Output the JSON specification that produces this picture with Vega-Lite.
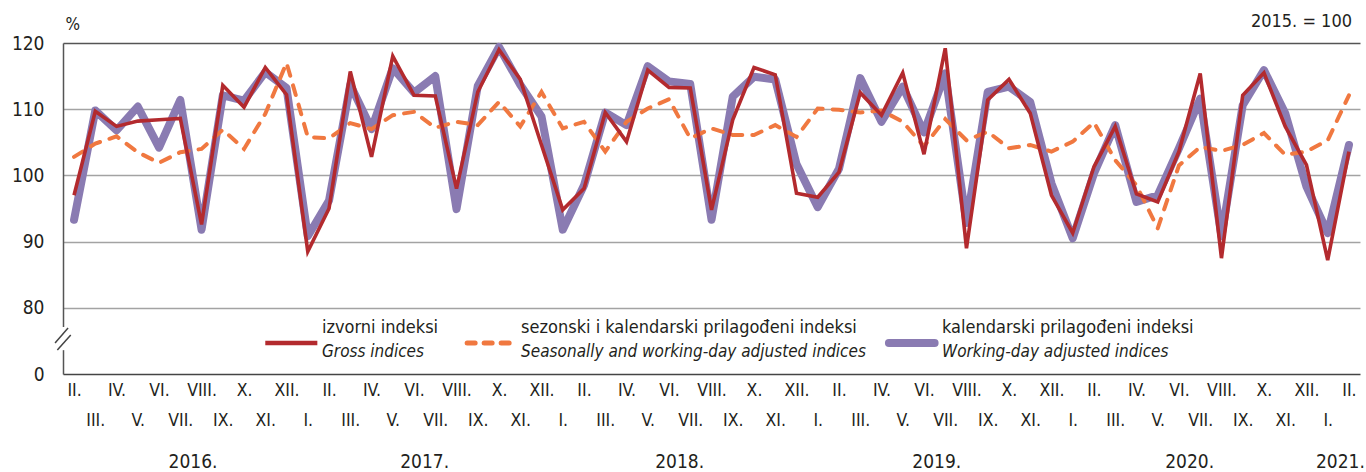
{
  "$schema": "https://vega.github.io/schema/vega-lite/v6.json",
  "width": 1297,
  "height": 331,
  "autosize": "none",
  "padding": {"left": 63, "top": 43, "right": 6, "bottom": 98},
  "background": "white",
  "config": {"view": {"stroke": null}, "font": "DejaVu Sans Condensed"},
  "resolve": {"axis": {"x": "independent"}},
  "datasets": {
    "series": [
      {"t": 0, "gross": 97.0, "sa": 102.8, "wd": 93.3},
      {"t": 1, "gross": 109.7, "sa": 104.8, "wd": 109.8},
      {"t": 2, "gross": 107.4, "sa": 105.9, "wd": 106.8},
      {"t": 3, "gross": 108.2, "sa": 103.5, "wd": 110.4},
      {"t": 4, "gross": 108.4, "sa": 101.9, "wd": 104.2},
      {"t": 5, "gross": 108.6, "sa": 103.5, "wd": 111.4},
      {"t": 6, "gross": 92.6, "sa": 104.0, "wd": 91.8},
      {"t": 7, "gross": 113.6, "sa": 106.9, "wd": 112.1},
      {"t": 8, "gross": 110.3, "sa": 104.0, "wd": 111.3},
      {"t": 9, "gross": 116.3, "sa": 109.3, "wd": 115.6},
      {"t": 10, "gross": 112.2, "sa": 117.0, "wd": 113.2},
      {"t": 11, "gross": 88.5, "sa": 105.8, "wd": 90.8},
      {"t": 12, "gross": 95.0, "sa": 105.6, "wd": 96.2},
      {"t": 13, "gross": 115.7, "sa": 107.9, "wd": 113.7},
      {"t": 14, "gross": 102.8, "sa": 107.0, "wd": 107.0},
      {"t": 15, "gross": 118.0, "sa": 109.1, "wd": 116.2},
      {"t": 16, "gross": 112.1, "sa": 109.6, "wd": 112.5},
      {"t": 17, "gross": 112.0, "sa": 107.2, "wd": 115.0},
      {"t": 18, "gross": 98.0, "sa": 108.1, "wd": 94.9},
      {"t": 19, "gross": 112.6, "sa": 107.6, "wd": 113.5},
      {"t": 20, "gross": 119.0, "sa": 111.1, "wd": 119.4},
      {"t": 21, "gross": 114.5, "sa": 107.4, "wd": 113.7},
      {"t": 22, "gross": 104.6, "sa": 112.6, "wd": 108.9},
      {"t": 23, "gross": 94.8, "sa": 107.1, "wd": 91.8},
      {"t": 24, "gross": 98.0, "sa": 108.1, "wd": 98.5},
      {"t": 25, "gross": 109.5, "sa": 103.6, "wd": 109.5},
      {"t": 26, "gross": 105.1, "sa": 108.1, "wd": 107.6},
      {"t": 27, "gross": 115.9, "sa": 110.1, "wd": 116.5},
      {"t": 28, "gross": 113.3, "sa": 111.5, "wd": 114.2},
      {"t": 29, "gross": 113.2, "sa": 105.6, "wd": 113.8},
      {"t": 30, "gross": 94.8, "sa": 107.1, "wd": 93.3},
      {"t": 31, "gross": 108.4, "sa": 106.1, "wd": 111.9},
      {"t": 32, "gross": 116.3, "sa": 106.1, "wd": 114.9},
      {"t": 33, "gross": 115.2, "sa": 107.6, "wd": 114.5},
      {"t": 34, "gross": 97.3, "sa": 105.8, "wd": 101.7},
      {"t": 35, "gross": 96.7, "sa": 110.1, "wd": 95.2},
      {"t": 36, "gross": 100.5, "sa": 109.9, "wd": 101.0},
      {"t": 37, "gross": 112.5, "sa": 109.5, "wd": 114.7},
      {"t": 38, "gross": 109.1, "sa": 109.8, "wd": 108.1},
      {"t": 39, "gross": 115.5, "sa": 108.1, "wd": 113.4},
      {"t": 40, "gross": 103.2, "sa": 104.4, "wd": 106.5},
      {"t": 41, "gross": 119.2, "sa": 108.5, "wd": 115.4},
      {"t": 42, "gross": 89.0, "sa": 105.3, "wd": 92.8},
      {"t": 43, "gross": 111.4, "sa": 106.6, "wd": 112.6},
      {"t": 44, "gross": 114.5, "sa": 104.1, "wd": 113.4},
      {"t": 45, "gross": 109.4, "sa": 104.6, "wd": 111.1},
      {"t": 46, "gross": 97.0, "sa": 103.6, "wd": 98.8},
      {"t": 47, "gross": 91.3, "sa": 105.1, "wd": 90.5},
      {"t": 48, "gross": 101.3, "sa": 108.0, "wd": 100.3},
      {"t": 49, "gross": 107.4, "sa": 102.3, "wd": 107.6},
      {"t": 50, "gross": 97.2, "sa": 98.5, "wd": 96.0},
      {"t": 51, "gross": 96.0, "sa": 92.0, "wd": 97.0},
      {"t": 52, "gross": 103.6, "sa": 101.5, "wd": 104.1},
      {"t": 53, "gross": 115.4, "sa": 104.3, "wd": 111.6},
      {"t": 54, "gross": 87.5, "sa": 103.7, "wd": 90.8},
      {"t": 55, "gross": 112.1, "sa": 104.6, "wd": 110.6},
      {"t": 56, "gross": 115.5, "sa": 106.4, "wd": 115.9},
      {"t": 57, "gross": 107.4, "sa": 103.1, "wd": 109.4},
      {"t": 58, "gross": 101.6, "sa": 103.6, "wd": 98.3},
      {"t": 59, "gross": 87.2, "sa": 105.3, "wd": 91.3},
      {"t": 60, "gross": 103.6, "sa": 112.1, "wd": 104.6}
    ],
    "years": [
      {"year": "2016.", "t": 5.6},
      {"year": "2017.", "t": 16.5},
      {"year": "2018.", "t": 28.5},
      {"year": "2019.", "t": 40.6},
      {"year": "2020.", "t": 52.5},
      {"year": "2021.", "t": 59.6}
    ]
  },
  "layer": [
    {
      "data": {"name": "series"},
      "mark": {"type": "line", "stroke": "#8a7bb2", "strokeWidth": 8, "strokeJoin": "round", "strokeCap": "round"},
      "encoding": {
        "x": {
          "field": "t", "type": "quantitative",
          "scale": {"domain": [-0.52, 60.52], "nice": false, "zero": false},
          "axis": {
            "orient": "bottom",
            "values": [0,1,2,3,4,5,6,7,8,9,10,11,12,13,14,15,16,17,18,19,20,21,22,23,24,25,26,27,28,29,30,31,32,33,34,35,36,37,38,39,40,41,42,43,44,45,46,47,48,49,50,51,52,53,54,55,56,57,58,59,60],
            "labelExpr": "datum.value % 2 == 0 ? ['I.','II.','III.','IV.','V.','VI.','VII.','VIII.','IX.','X.','XI.','XII.'][(datum.value + 1) % 12] : ''",
            "ticks": false, "grid": false,
            "domainColor": "#444", "domainWidth": 1.5,
            "labelFont": "DejaVu Sans Condensed", "labelFontSize": 17.5, "labelColor": "#231f20",
            "labelBaseline": "top", "labelPadding": 7,
            "labelOverlap": false, "labelFlush": false, "labelBound": false,
            "title": null
          }
        },
        "y": {
          "field": "wd", "type": "quantitative",
          "scale": {"domain": [70, 120], "nice": false, "zero": false},
          "axis": {
            "values": [70, 80, 90, 100, 110, 120],
            "labelExpr": "datum.value == 70 ? '0' : datum.label",
            "ticks": false, "labelPadding": 19,
            "labelFont": "DejaVu Sans Condensed", "labelFontSize": 19, "labelColor": "#231f20",
            "domainColor": "#555", "domainWidth": 1.5,
            "grid": true,
            "gridColor": {"condition": {"test": "datum.value == 120", "value": "#555555"}, "value": "#a3a3a3"},
            "gridWidth": 1.5,
            "gridOpacity": {"condition": {"test": "datum.value == 70", "value": 0}, "value": 1},
            "title": "%", "titleAngle": 0, "titleAlign": "left", "titleBaseline": "alphabetic",
            "titleX": 2, "titleY": -14, "titleFontSize": 17, "titleFontWeight": "normal",
            "titleFont": "DejaVu Sans Condensed", "titleColor": "#231f20"
          }
        }
      }
    },
    {
      "data": {"name": "series"},
      "mark": {"type": "line", "stroke": "#f07840", "strokeWidth": 4, "strokeDash": [10, 10], "strokeCap": "round"},
      "encoding": {
        "x": {
          "field": "t", "type": "quantitative",
          "axis": {
            "orient": "bottom", "offset": 30,
            "values": [0,1,2,3,4,5,6,7,8,9,10,11,12,13,14,15,16,17,18,19,20,21,22,23,24,25,26,27,28,29,30,31,32,33,34,35,36,37,38,39,40,41,42,43,44,45,46,47,48,49,50,51,52,53,54,55,56,57,58,59,60],
            "labelExpr": "datum.value % 2 == 1 ? ['I.','II.','III.','IV.','V.','VI.','VII.','VIII.','IX.','X.','XI.','XII.'][(datum.value + 1) % 12] : ''",
            "ticks": false, "grid": false, "domain": false,
            "labelFont": "DejaVu Sans Condensed", "labelFontSize": 17.5, "labelColor": "#231f20",
            "labelBaseline": "top", "labelPadding": 7,
            "labelOverlap": false, "labelFlush": false, "labelBound": false,
            "title": null
          }
        },
        "y": {"field": "sa", "type": "quantitative"}
      }
    },
    {
      "data": {"name": "series"},
      "mark": {"type": "line", "stroke": "#b32a2e", "strokeWidth": 3.6, "strokeJoin": "miter"},
      "encoding": {
        "x": {"field": "t", "type": "quantitative", "axis": null},
        "y": {"field": "gross", "type": "quantitative"}
      }
    },
    {
      "data": {"values": [{}]},
      "mark": {"type": "rect", "fill": "white", "clip": false},
      "encoding": {
        "x": {"datum": -0.62, "axis": null},
        "x2": {"datum": -0.4},
        "y": {"datum": 73.6},
        "y2": {"datum": 77.1}
      }
    },
    {
      "data": {"values": [{}]},
      "mark": {"type": "rule", "stroke": "#444", "strokeWidth": 1.5},
      "encoding": {
        "x": {"datum": -0.894, "axis": null}, "x2": {"datum": -0.282},
        "y": {"datum": 74.68}, "y2": {"datum": 76.95}
      }
    },
    {
      "data": {"values": [{}]},
      "mark": {"type": "rule", "stroke": "#444", "strokeWidth": 1.5},
      "encoding": {
        "x": {"datum": -0.786, "axis": null}, "x2": {"datum": -0.155},
        "y": {"datum": 73.63}, "y2": {"datum": 75.9}
      }
    },
    {
      "data": {"values": [{}]},
      "mark": {"type": "rule", "stroke": "#b32a2e", "strokeWidth": 4.5},
      "encoding": {
        "x": {"datum": 9.0, "axis": null}, "x2": {"datum": 11.45},
        "y": {"datum": 74.7}
      }
    },
    {
      "data": {"values": [{}]},
      "mark": {"type": "rule", "stroke": "#f07840", "strokeWidth": 5, "strokeDash": [8, 9], "strokeCap": "round"},
      "encoding": {
        "x": {"datum": 18.5, "axis": null}, "x2": {"datum": 20.8},
        "y": {"datum": 74.7}
      }
    },
    {
      "data": {"values": [{}]},
      "mark": {"type": "rule", "stroke": "#8a7bb2", "strokeWidth": 8, "strokeCap": "round"},
      "encoding": {
        "x": {"datum": 38.35, "axis": null}, "x2": {"datum": 40.5},
        "y": {"datum": 74.7}
      }
    },
    {
      "data": {"values": [{"hr": "izvorni indeksi", "en": "Gross indices"}]},
      "layer": [
        {
          "mark": {"type": "text", "align": "left", "baseline": "middle", "fontSize": 18, "font": "DejaVu Sans Condensed", "color": "#231f20"},
          "encoding": {"x": {"datum": 11.67, "axis": null}, "y": {"datum": 77.0}, "text": {"field": "hr"}}
        },
        {
          "mark": {"type": "text", "align": "left", "baseline": "middle", "fontSize": 17, "fontStyle": "italic", "font": "DejaVu Sans Condensed", "color": "#231f20"},
          "encoding": {"x": {"datum": 11.67, "axis": null}, "y": {"datum": 73.3}, "text": {"field": "en"}}
        }
      ]
    },
    {
      "data": {"values": [{"hr": "sezonski i kalendarski prilagođeni indeksi", "en": "Seasonally and working-day adjusted indices"}]},
      "layer": [
        {
          "mark": {"type": "text", "align": "left", "baseline": "middle", "fontSize": 18, "font": "DejaVu Sans Condensed", "color": "#231f20"},
          "encoding": {"x": {"datum": 21.04, "axis": null}, "y": {"datum": 77.0}, "text": {"field": "hr"}}
        },
        {
          "mark": {"type": "text", "align": "left", "baseline": "middle", "fontSize": 17, "fontStyle": "italic", "font": "DejaVu Sans Condensed", "color": "#231f20"},
          "encoding": {"x": {"datum": 21.04, "axis": null}, "y": {"datum": 73.3}, "text": {"field": "en"}}
        }
      ]
    },
    {
      "data": {"values": [{"hr": "kalendarski prilagođeni indeksi", "en": "Working-day adjusted indices"}]},
      "layer": [
        {
          "mark": {"type": "text", "align": "left", "baseline": "middle", "fontSize": 18, "font": "DejaVu Sans Condensed", "color": "#231f20"},
          "encoding": {"x": {"datum": 40.85, "axis": null}, "y": {"datum": 77.0}, "text": {"field": "hr"}}
        },
        {
          "mark": {"type": "text", "align": "left", "baseline": "middle", "fontSize": 17, "fontStyle": "italic", "font": "DejaVu Sans Condensed", "color": "#231f20"},
          "encoding": {"x": {"datum": 40.85, "axis": null}, "y": {"datum": 73.3}, "text": {"field": "en"}}
        }
      ]
    },
    {
      "data": {"values": [{"note": "2015. = 100"}]},
      "mark": {"type": "text", "align": "right", "baseline": "middle", "fontSize": 18, "font": "DejaVu Sans Condensed", "color": "#231f20", "dx": -8, "dy": -21},
      "encoding": {"x": {"datum": 60.52, "axis": null}, "y": {"datum": 120}, "text": {"field": "note"}}
    },
    {
      "data": {"name": "years"},
      "mark": {"type": "text", "font": "DejaVu Sans Condensed", "fontSize": 19, "color": "#231f20", "baseline": "middle", "align": "center"},
      "encoding": {
        "x": {"field": "t", "type": "quantitative", "axis": null},
        "y": {"datum": 56.7},
        "text": {"field": "year"}
      }
    }
  ]
}
